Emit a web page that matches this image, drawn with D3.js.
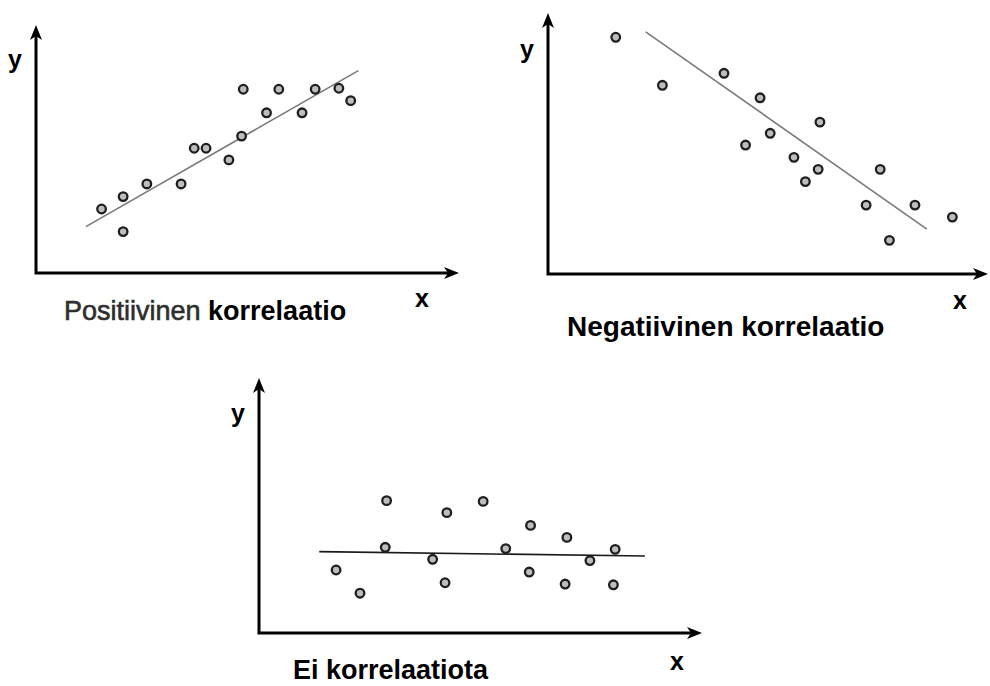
<html>
<head>
<style>
    body { margin: 0; background: #fff; }
    .axis { stroke: #000; stroke-width: 3; fill: none; }
    .dot { fill: #bdbdbd; stroke: #1e1e1e; stroke-width: 2.3; }
    .lbl { font-family: "Liberation Sans", Arial, sans-serif; font-weight: bold; fill: #000; }
</style>
</head>
<body>
<svg id="chart" width="990" height="686"></svg>

<script src="https://d3js.org/d3.v7.min.js"></script>
<script>
// data in axis units, 0..10 on both axes (10 = arrow tip)
let posX = [1.55, 2.06, 2.06, 2.62, 3.43, 3.74, 4.02, 4.56, 4.86, 4.90, 5.45, 5.74, 6.29, 6.60, 7.16, 7.44]
let posY = [2.58, 3.08, 1.67, 3.59, 3.59, 5.03, 5.03, 4.56, 5.52, 7.41, 6.46, 7.41, 6.46, 7.41, 7.45, 6.95]
let posFit = [[1.18, 1.87], [7.62, 8.16]]

let negX = [1.54, 2.60, 4.00, 4.82, 5.05, 4.49, 6.18, 5.59, 6.14, 5.85, 7.55, 7.23, 8.34, 7.76, 9.19]
let negY = [9.07, 7.23, 7.69, 6.75, 5.39, 4.94, 5.82, 4.47, 4.01, 3.54, 4.01, 2.64, 2.64, 1.29, 2.18]
let negFit = [[2.22, 9.28], [8.61, 1.72]]

let noneX = [1.74, 2.28, 2.88, 2.85, 3.92, 4.24, 4.20, 5.06, 5.57, 6.13, 6.10, 6.95, 6.91, 7.47, 8.04, 8.00]
let noneY = [2.47, 1.56, 5.19, 3.36, 2.89, 4.72, 1.97, 5.16, 3.31, 4.22, 2.39, 3.75, 1.92, 2.84, 3.28, 1.89]
let noneFit = [[1.36, 3.19], [8.71, 3.02]]

let panels = [
    { xs: posX, ys: posY, fit: posFit, ox: 36, oy: 273, w: 423, h: 248, fitColor: "#7a7a7a",
      caption: [["Positiivinen ", "normal", "#2e2e2e"], ["korrelaatio", "bold", "#000"]],
      capX: 64, capY: 320, capSize: 27, yLbl: [15, 68], xLbl: [422, 307] },
    { xs: negX, ys: negY, fit: negFit, ox: 548, oy: 274, w: 440, h: 261, fitColor: "#7a7a7a",
      caption: [["Negatiivinen korrelaatio", "bold", "#000"]],
      capX: 567, capY: 336, capSize: 28, yLbl: [527, 58], xLbl: [960, 309] },
    { xs: noneX, ys: noneY, fit: noneFit, ox: 259, oy: 633, w: 443, h: 255, fitColor: "#1a1a1a",
      caption: [["Ei korrelaatiota", "bold", "#000"]],
      capX: 293, capY: 679, capSize: 27, yLbl: [238, 422], xLbl: [677, 670] }
]

let svg = d3.select("#chart")

panels.forEach(p => {
    let x = d3.scaleLinear().domain([0, 10]).range([p.ox, p.ox + p.w])
    let y = d3.scaleLinear().domain([0, 10]).range([p.oy, p.oy - p.h])
    let g = svg.append("g")

    // axes with arrow heads
    let tipX = x(10), tipY = y(10)
    g.append("path").attr("class", "axis")
        .attr("d", `M${x(0)},${tipY + 10} L${x(0)},${y(0)} L${tipX - 10},${y(0)}`)
    g.append("path").attr("fill", "#000")
        .attr("d", `M${x(0)},${tipY} L${x(0) - 6},${tipY + 15} L${x(0)},${tipY + 11} L${x(0) + 6},${tipY + 15} Z`)
    g.append("path").attr("fill", "#000")
        .attr("d", `M${tipX},${y(0)} L${tipX - 15},${y(0) - 6} L${tipX - 11},${y(0)} L${tipX - 15},${y(0) + 6} Z`)

    // fit line
    g.append("path")
        .datum(p.fit)
        .attr("d", d3.line().x(d => x(d[0])).y(d => y(d[1])))
        .attr("stroke", p.fitColor).attr("stroke-width", 1.6).attr("fill", "none")

    // points
    g.selectAll("circle").data(p.xs.map((v, i) => [v, p.ys[i]])).join("circle")
        .attr("class", "dot")
        .attr("cx", d => x(d[0])).attr("cy", d => y(d[1])).attr("r", 4.3)

    // labels
    g.append("text").attr("class", "lbl").attr("x", p.yLbl[0]).attr("y", p.yLbl[1])
        .attr("text-anchor", "middle").attr("font-size", 25).text("y")
    g.append("text").attr("class", "lbl").attr("x", p.xLbl[0]).attr("y", p.xLbl[1])
        .attr("text-anchor", "middle").attr("font-size", 25).text("x")
    let cap = g.append("text").attr("class", "lbl").attr("x", p.capX).attr("y", p.capY)
        .attr("font-size", p.capSize)
    p.caption.forEach(c => {
        let t = cap.append("tspan").attr("font-weight", c[1]).attr("fill", c[2]).text(c[0])
        if (c[1] == "normal") t.attr("stroke", c[2]).attr("stroke-width", 0.6)
    })
})
</script>
</body>
</html>
